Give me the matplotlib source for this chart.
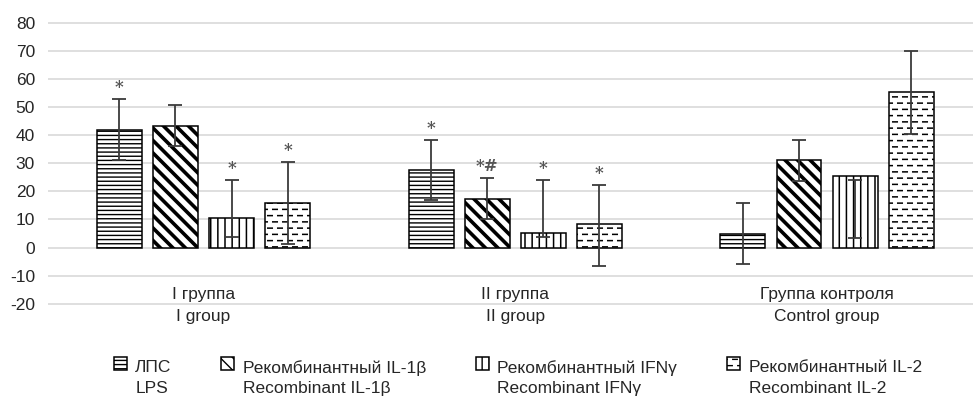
import warnings
import numpy as np
import matplotlib
matplotlib.use("Agg")
import matplotlib.pyplot as plt
import matplotlib.hatch as mhatch
from matplotlib.path import Path
from matplotlib.patches import Rectangle
from matplotlib.legend_handler import HandlerPatch

warnings.filterwarnings("ignore")

# ---------------- data ----------------
groups = ["I группа\nI group", "II группа\nII group", "Группа контроля\nControl group"]
series = ["ЛПС\nLPS",
          "Рекомбинантный IL-1β\nRecombinant IL-1β",
          "Рекомбинантный IFNγ\nRecombinant IFNγ",
          "Рекомбинантный IL-2\nRecombinant IL-2"]

lps = [41.9, 27.6, 4.7]
il1b = [43.3, 17.3, 31.0]
ifng = [10.5, 5.3, 25.4]
il2 = [16.0, 8.3, 55.3]

# error bar ends (lower, upper)
lps_lo, lps_hi = [31.1, 17.0, -5.9], [52.9, 38.3, 15.7]
il1b_lo, il1b_hi = [36.0, 10.2, 23.7], [50.7, 24.7, 38.3]
ifng_lo, ifng_hi = [3.6, 3.9, 3.3], [24.1, 24.1, 24.2]
il2_lo, il2_hi = [1.2, -6.4, 40.5], [30.5, 22.3, 70.0]

# significance marks
lps_sig = ["*", "*", ""]
il1b_sig = ["", "*#", ""]
ifng_sig = ["*", "*", ""]
il2_sig = ["*", "*", ""]


# ---------------- custom hatches ----------------
class ChartHatch(mhatch.HatchPatternBase):
    """h: dense horizontal, v: vertical, n: wide diagonal, e: brick dashes"""

    def __init__(self, hatch, density):
        segs = []
        if "h" in hatch:
            for y in (np.arange(24) + 0.5) / 24:
                segs.append(((0.0, y), (1.0, y)))
        if "v" in hatch:
            for x in (np.arange(14) + 0.5) / 14:
                segs.append(((x, 0.0), (x, 1.0)))
        if "n" in hatch:
            m = 8
            for k in range(2 * m + 1):
                c = k / m
                segs.append(((c - 2.0, 2.0), (c + 2.0, -2.0)))
        if "e" in hatch:
            rows, per, ln = 16, 10, 0.045
            for r in range(rows):
                y = (r + 0.5) / rows
                if r % 2 == 0:
                    centers = (np.arange(per) + 0.5) / per
                else:
                    centers = np.arange(per + 1) / per
                for cx in centers:
                    x0, x1 = max(cx - ln / 2, 0.0), min(cx + ln / 2, 1.0)
                    segs.append(((x0, y), (x1, y)))
        self.segs = segs
        self.num_vertices = 2 * len(segs)

    def set_vertices_and_codes(self, vertices, codes):
        for i, (a, b) in enumerate(self.segs):
            vertices[2 * i] = a
            vertices[2 * i + 1] = b
        codes[0::2] = Path.MOVETO
        codes[1::2] = Path.LINETO


mhatch._hatch_types.append(ChartHatch)


class UpperHandle(HandlerPatch):
    # put the legend swatch next to the first line of a two-line label
    def create_artists(self, legend, orig_handle, xdescent, ydescent,
                       width, height, fontsize, trans):
        p = Rectangle((-xdescent, -ydescent + 0.85 * fontsize), width, height)
        self.update_prop(p, orig_handle, legend)
        p.set_transform(trans)
        return [p]


# ---------------- plot ----------------
plt.rcParams["font.family"] = ["Liberation Sans", "DejaVu Sans"]
plt.rcParams["font.size"] = 12.5
plt.rcParams["axes.unicode_minus"] = False

fig = plt.figure(figsize=(9.73, 3.96), dpi=100)
ax = fig.add_axes([0.0489, 0.2293, 0.9511, 0.7169])

x = np.arange(len(groups))
width = 0.144
step = 0.18
values = [lps, il1b, ifng, il2]
lows = [lps_lo, il1b_lo, ifng_lo, il2_lo]
highs = [lps_hi, il1b_hi, ifng_hi, il2_hi]
sigs = [lps_sig, il1b_sig, ifng_sig, il2_sig]
hatches = ["h", "n", "v", "e"]
hatch_lw = [1.0, 2.6, 1.1, 1.1]

handles = []
for i, (vals, lo, hi, sg) in enumerate(zip(values, lows, highs, sigs)):
    pos = x + (i - 1.5) * step
    bars = ax.bar(pos, vals, width, color="white", edgecolor="black",
                  linewidth=1.1, hatch=hatches[i], label=series[i], zorder=2)
    for b in bars:
        try:
            b.set_hatch_linewidth(hatch_lw[i])
        except AttributeError:
            pass
    handles.append(bars[0])
    lo = np.array(lo)
    hi = np.array(hi)
    mid = (lo + hi) / 2
    ax.errorbar(pos, mid, yerr=(hi - lo) / 2, fmt="none", ecolor="#3a3a3a",
                elinewidth=1.3, capsize=5, capthick=1.3, zorder=3)
    for p, h, s in zip(pos, hi, sg):
        if s:
            ax.annotate(s, (p, h), xytext=(0, 2), textcoords="offset points",
                        ha="center", va="bottom", fontsize=12, fontweight="bold",
                        color="#555555", family="DejaVu Serif")

ax.set_ylim(-20.5, 80.5)
ax.set_xlim(-0.5, 2.468)
ax.set_yticks(np.arange(-20, 81, 10))
ax.set_xticks([])
ax.tick_params(axis="y", length=0, pad=9, colors="#262626")
ax.grid(axis="y", color="#d9d9d9", linewidth=1.2, zorder=0)
ax.set_axisbelow(True)
for sp in ax.spines.values():
    sp.set_visible(False)

for xi, g in zip(x, groups):
    ax.text(xi, -20.6, g, ha="center", va="center", linespacing=1.65,
            color="#262626")

leg = fig.legend(handles, series, loc="center", bbox_to_anchor=(0.532, 0.045),
                 ncol=4, frameon=False, handlelength=0.75, handleheight=0.75,
                 handletextpad=0.5, columnspacing=2.85, fontsize=12.5,
                 handler_map={Rectangle: UpperHandle()}, labelspacing=0)
for t in leg.get_texts():
    t.set_linespacing(1.45)
    t.set_color("#262626")

fig.savefig("out.png", dpi=100)
